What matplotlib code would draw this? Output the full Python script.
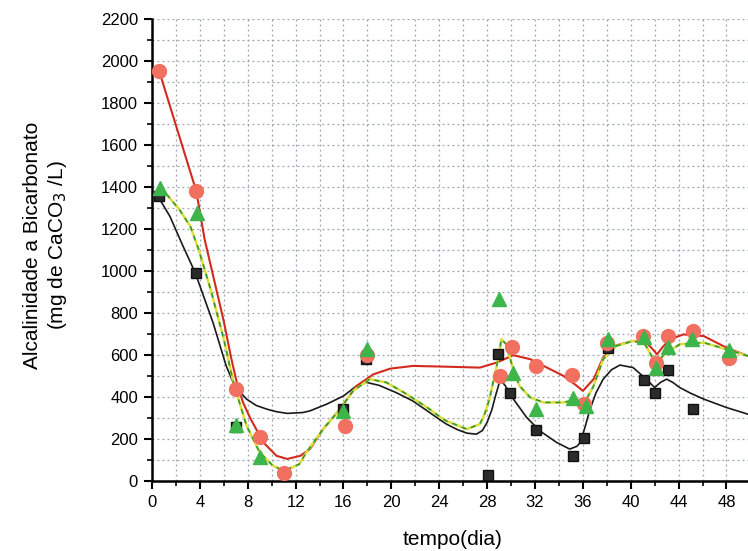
import numpy as np
import matplotlib.pyplot as plt
from matplotlib.ticker import MultipleLocator

plt.rcParams['font.family'] = ['Liberation Sans', 'DejaVu Sans']

# measured points (day, mg CaCO3/L)
black_days = [0.6, 3.7, 7.0, 16.0, 17.9, 28.1, 28.9, 29.9, 32.1, 35.2, 36.1, 38.1, 41.1, 42.0, 43.1, 45.2]
black_vals = [1355, 990, 255, 345, 580, 30, 603, 417, 242, 120, 205, 635, 483, 419, 527, 342]

red_days = [0.6, 3.7, 7.0, 9.0, 11.0, 16.1, 18.0, 29.1, 30.1, 32.1, 35.1, 36.1, 38.0, 41.0, 42.1, 43.1, 45.2, 48.2]
red_vals = [1952, 1380, 440, 210, 38, 263, 600, 500, 640, 548, 505, 366, 655, 690, 562, 690, 714, 588]

green_days = [0.7, 3.8, 7.0, 9.0, 16.0, 18.0, 29.0, 30.2, 32.1, 35.2, 36.3, 38.1, 41.1, 42.1, 43.1, 45.1, 48.2]
green_vals = [1396, 1278, 265, 113, 335, 627, 868, 516, 342, 397, 358, 675, 687, 540, 640, 675, 622]

# fitted curves
black_curve_x = [0.5, 1.5, 2.5, 3.6, 5.1, 6.2, 6.9, 7.9, 8.7, 9.6, 10.4, 11.3, 12.6, 13.2, 14.6, 16.0,
                 17.1, 17.9, 19.0, 20.4, 21.8, 23.2, 24.1, 24.6, 25.5, 26.3, 27.1, 27.6, 28.0, 28.4,
                 28.7, 29.1, 29.5, 30.2, 31.3, 32.4, 33.8, 34.9, 35.5, 35.8, 36.2, 36.6, 37.1, 37.7,
                 38.4, 39.1, 40.2, 41.3, 42.0, 42.5, 43.0, 43.5, 44.1, 45.0, 46.1, 48.0, 49.8]
black_curve_y = [1355, 1260, 1130, 993, 754, 548, 453, 390, 360, 342, 330, 322, 326, 334, 366, 405,
                 453, 470, 455, 421, 381, 326, 290, 271, 245, 228, 223, 240, 279, 340,
                 405, 483, 455, 390, 303, 239, 184, 152, 165, 184, 260, 342, 420, 485,
                 530, 552, 540, 485, 445, 470, 485, 470, 445, 418, 390, 350, 318]

red_curve_x = [0.6, 3.7, 4.4, 5.2, 6.0, 6.6, 7.1, 7.6, 8.2, 9.3, 10.4, 11.3, 12.4, 13.2, 14.3, 15.7,
               17.1, 18.5, 19.9, 21.8, 24.1, 27.4, 28.8, 30.2, 31.6, 33.0, 34.4, 35.5, 36.0, 36.9,
               37.7, 38.8, 40.2, 41.3, 41.8, 42.2, 42.7, 43.3, 44.4, 46.1, 48.0, 49.8]
red_curve_y = [1952, 1380, 1150, 955, 760, 590, 465, 375, 300, 184, 120, 105, 120, 152, 247, 342,
               453, 508, 535, 548, 545, 540, 564, 599, 580, 540, 500, 453, 429, 485,
               588, 646, 667, 659, 630, 603, 640, 675, 698, 690, 635, 595]

green_curve_x = [0.7, 1.1, 2.3, 3.2, 3.9, 4.9, 6.0, 6.8, 7.9, 9.0, 10.1, 10.7, 11.5, 12.3, 12.9,
                 14.3, 15.7, 16.8, 18.2, 19.6, 21.3, 23.2, 24.1, 24.6, 26.3, 27.4, 27.8, 28.2, 28.5,
                 28.8, 29.2, 29.6, 30.1, 30.7, 31.6, 32.7, 34.4, 35.5, 36.0, 36.9, 37.7, 38.8,
                 40.2, 41.2, 41.7, 42.1, 42.5, 43.0, 44.1, 46.1, 48.0, 49.8]
green_curve_y = [1403, 1373, 1292, 1213, 1102, 912, 675, 469, 263, 136, 73, 57, 60, 80, 136,
                 247, 342, 429, 485, 469, 413, 342, 303, 286, 247, 271, 320, 390, 470,
                 548, 675, 651, 548, 453, 398, 374, 374, 390, 358, 453, 580, 643,
                 667, 651, 600, 556, 585, 611, 651, 659, 627, 595]

fig = plt.figure(figsize=(7.48, 5.51), dpi=100)
ax = fig.add_axes([152 / 748, 1 - 481 / 551, 596 / 748, 462 / 551])

ax.plot(black_curve_x, black_curve_y, color='#1a1a1a', lw=1.2, zorder=3)
ax.plot(red_curve_x, red_curve_y, color='#d42a1e', lw=1.5, zorder=3)
ax.plot(green_curve_x, green_curve_y, color='#dede3a', lw=1.8, zorder=3)
ax.plot(green_curve_x, green_curve_y, color='#2f9a3c', lw=1.2, ls=(0, (3, 3)), zorder=3)

ax.plot(black_days, black_vals, ls='none', marker='s', ms=7, color='#2b2b2b',
        mec='#111111', zorder=4)
ax.plot(red_days, red_vals, ls='none', marker='o', ms=10, color='#f2705f',
        mec='#f2705f', zorder=5)
ax.plot(green_days, green_vals, ls='none', marker='^', ms=10, color='#3db54a',
        mec='#3db54a', zorder=6)

ax.set_xlim(0, 49.8)
ax.set_ylim(0, 2200)
ax.xaxis.set_major_locator(MultipleLocator(4))
ax.xaxis.set_minor_locator(MultipleLocator(2))
ax.yaxis.set_major_locator(MultipleLocator(200))
ax.yaxis.set_minor_locator(MultipleLocator(100))

ax.grid(which='both', color='#9aa0ae', ls=(0, (1.5, 2.5)), lw=0.9, zorder=0)

for side in ['top', 'right']:
    ax.spines[side].set_visible(False)
for side in ['left', 'bottom']:
    ax.spines[side].set_linewidth(1.8)
ax.tick_params(which='major', direction='out', length=6, width=1.5, labelsize=12, pad=4)
ax.tick_params(which='minor', direction='out', length=3.5, width=1.2)

ax.set_xlabel('tempo(dia)', fontsize=15)
ax.xaxis.set_label_coords(0.505, -0.105)
ax.set_ylabel('Alcalinidade a Bicarbonato\n(mg de CaCO$_3$ /L)', fontsize=15)
ax.yaxis.set_label_coords(-0.14, 0.51)

fig.savefig('out.png', dpi=100)
